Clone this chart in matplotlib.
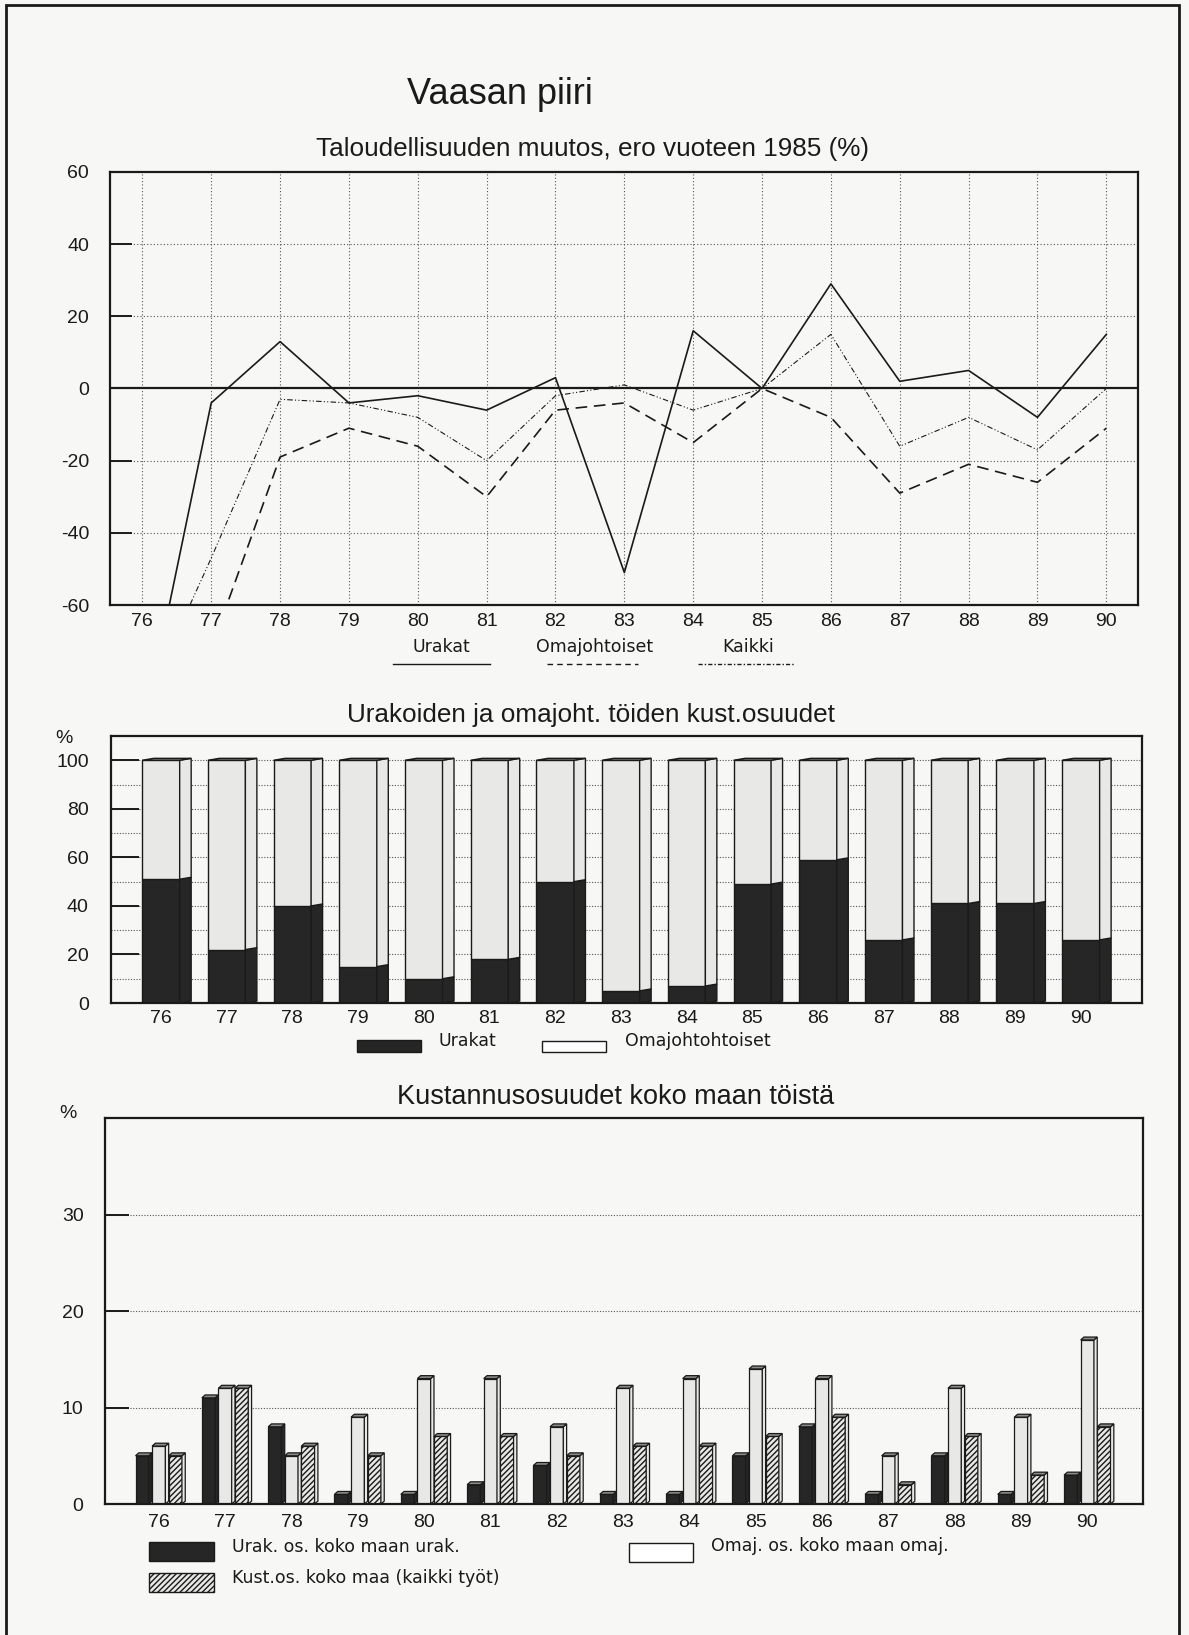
import matplotlib
matplotlib.use("Agg")
import matplotlib.pyplot as plt
from matplotlib.patches import Polygon, Rectangle
from matplotlib.lines import Line2D

plt.rcParams['font.family'] = ['Liberation Sans', 'DejaVu Sans']

# ---- data -------------------------------------------------------------
years = [76, 77, 78, 79, 80, 81, 82, 83, 84, 85, 86, 87, 88, 89, 90]
year_labels = [str(y) for y in years]

# Taloudellisuuden muutos, ero vuoteen 1985 (%)
urakat_change = [-96, -4, 13, -4, -2, -6, 3, -51, 16, 0, 29, 2, 5, -8, 15]
omaj_change = [-90, -72, -19, -11, -16, -30, -6, -4, -15, 0, -8, -29, -21, -26, -11]
kaikki_change = [-89, -47, -3, -4, -8, -20, -2, 1, -6, 0, 15, -16, -8, -17, 0]
change_ticks = [-60, -40, -20, 0, 20, 40, 60]

# Urakoiden ja omajohtoisten töiden kustannusosuudet (%)
urakat_share = [51, 22, 40, 15, 10, 18, 50, 5, 7, 49, 59, 26, 41, 41, 26]
omaj_share = [49, 78, 60, 85, 90, 82, 50, 95, 93, 51, 41, 74, 59, 59, 74]
share_ticks = [0, 20, 40, 60, 80, 100]

# Kustannusosuudet koko maan töistä (%)
urak_os = [5, 11, 8, 1, 1, 2, 4, 1, 1, 5, 8, 1, 5, 1, 3]
omaj_os = [6, 12, 5, 9, 13, 13, 8, 12, 13, 14, 13, 5, 12, 9, 17]
kust_os = [5, 12, 6, 5, 7, 7, 5, 6, 6, 7, 9, 2, 7, 3, 8]
os_ticks = [0, 10, 20, 30]

# ---- styling ----------------------------------------------------------
BG = '#f7f7f5'
INK = '#1a1a1a'
DARK = '#262626'
LIGHT = '#e8e8e6'
CAP = '#8a8a8a'
GRID = '#555555'
TICK_FS = 14
LEG_FONT = ['DejaVu Sans']
LEG_FS = 12.5

W, H = 1189, 1635
fig = plt.figure(figsize=(W / 100, H / 100), dpi=100, facecolor=BG)


def fx(px):
    return px / W


def fy(py):
    return 1 - py / H


def add_axes(x0, y0, x1, y1):
    ax = fig.add_axes([fx(x0), fy(y1), fx(x1 - x0), (y1 - y0) / H])
    ax.set_facecolor(BG)
    for s in ax.spines.values():
        s.set_linewidth(1.6)
        s.set_color(INK)
    return ax


# page frame
fig.add_artist(Rectangle((fx(6), fy(1640)), fx(1173), (1640 - 5) / H,
                         transform=fig.transFigure, fill=False,
                         edgecolor=INK, linewidth=2))

fig.text(fx(500), fy(95), 'Vaasan piiri', ha='center', va='center',
         fontsize=26, color=INK)

# ---- 1: Taloudellisuuden muutos ----------------------------------------
ax1 = add_axes(110, 172, 1138, 605)
ax1.set_xlim(75.53, 90.46)
ax1.set_ylim(-60, 60)
for y in years:
    ax1.axvline(y, color=GRID, lw=0.8, ls=(0, (1, 2)), zorder=0.5)
for v in change_ticks[1:-1]:
    if v != 0:
        ax1.axhline(v, color=GRID, lw=0.8, ls=(0, (1, 2)), zorder=0.5)
ax1.axhline(0, color=INK, lw=1.6, zorder=1)
ax1.plot(years, urakat_change, color=INK, lw=1.2, zorder=3)
ax1.plot(years, omaj_change, color=INK, lw=1.2, ls=(0, (7, 4)), zorder=3)
ax1.plot(years, kaikki_change, color=INK, lw=0.8, ls=(0, (5, 2, 1, 2, 1, 2)), zorder=3)
ax1.set_xticks(years, year_labels)
ax1.set_yticks(change_ticks, [str(v) for v in change_ticks])
ax1.tick_params(axis='x', length=0, pad=6, labelsize=TICK_FS, colors=INK)
ax1.tick_params(axis='y', direction='in', length=16, width=1.4, pad=15,
                labelsize=TICK_FS, colors=INK)
fig.text(fx(593), fy(149), 'Taloudellisuuden muutos, ero vuoteen 1985 (%)',
         ha='center', va='center', fontsize=18.8, color=INK)

# line legend under the axes
legend_items = [('Urakat', 441, 393, 490, '-'),
                ('Omajohtoiset', 595, 547, 638, (0, (4, 3))),
                ('Kaikki', 748, 698, 795, (0, (3, 1.5, 1, 1.5)))]
for label, cx, lx0, lx1, ls in legend_items:
    fig.text(fx(cx), fy(647), label, ha='center', va='center',
             fontsize=LEG_FS, color=INK, family=LEG_FONT)
    fig.add_artist(Line2D([fx(lx0), fx(lx1)], [fy(664), fy(664)],
                          transform=fig.transFigure, color=INK, lw=1, ls=ls))

# ---- 2: Urakoiden ja omajoht. töiden kust.osuudet -----------------------
ax2 = add_axes(111, 736, 1142, 1003)
ax2.set_xlim(75.24, 90.93)
ax2.set_ylim(0, 110)
for v in range(10, 101, 10):
    ax2.axhline(v, color=GRID, lw=0.8, ls=(0, (1, 1.5)), zorder=0.5)

bw, ddx, ddy = 0.57, 0.175, 0.8
ax2.bar(years, urakat_share, width=bw, color=DARK, edgecolor=INK, lw=1, zorder=2)
ax2.bar(years, omaj_share, width=bw, bottom=urakat_share, color=LIGHT,
        edgecolor=INK, lw=1, zorder=2)
for x, u, o in zip(years, urakat_share, omaj_share):
    r = x + bw / 2
    top = u + o
    ax2.add_patch(Polygon([(r, 0), (r + ddx, ddy), (r + ddx, u + ddy), (r, u)],
                          closed=True, facecolor=DARK, edgecolor=INK, lw=1, zorder=2))
    ax2.add_patch(Polygon([(r, u), (r + ddx, u + ddy), (r + ddx, top + ddy), (r, top)],
                          closed=True, facecolor=LIGHT, edgecolor=INK, lw=1, zorder=2))
    ax2.add_patch(Polygon([(x - bw / 2, top), (x - bw / 2 + ddx, top + ddy),
                           (r + ddx, top + ddy), (r, top)],
                          closed=True, facecolor=CAP, edgecolor=INK, lw=1, zorder=2))
ax2.set_xticks(years, year_labels)
ax2.set_yticks(share_ticks, [str(v) for v in share_ticks])
ax2.tick_params(axis='x', length=0, pad=5, labelsize=TICK_FS, colors=INK)
ax2.tick_params(axis='y', direction='in', length=20, width=1.4, pad=16,
                labelsize=TICK_FS, colors=INK)
fig.text(fx(591), fy(715), 'Urakoiden ja omajoht. töiden kust.osuudet',
         ha='center', va='center', fontsize=18.8, color=INK)
fig.text(fx(64), fy(738), '%', ha='center', va='center', fontsize=TICK_FS, color=INK)

fig.add_artist(Rectangle((fx(357), fy(1052)), fx(64), 12 / H, transform=fig.transFigure,
                         facecolor=DARK, edgecolor=INK, lw=1))
fig.text(fx(438), fy(1041), 'Urakat', ha='left', va='center', fontsize=LEG_FS,
         color=INK, family=LEG_FONT)
fig.add_artist(Rectangle((fx(542), fy(1052)), fx(64), 11 / H, transform=fig.transFigure,
                         facecolor='white', edgecolor=INK, lw=1))
fig.text(fx(625), fy(1041), 'Omajohtohtoiset', ha='left', va='center', fontsize=LEG_FS,
         color=INK, family=LEG_FONT)

# ---- 3: Kustannusosuudet koko maan töistä ------------------------------
ax3 = add_axes(105, 1118, 1143, 1504)
ax3.set_xlim(75.19, 90.84)
ax3.set_ylim(0, 40)
for v in os_ticks[1:]:
    ax3.axhline(v, color=GRID, lw=0.8, ls=(0, (1, 1.5)), zorder=0.5)

w3, d3x, d3y = 0.2, 0.05, 0.3
offsets = [-0.25, 0.0, 0.25]
series = [(urak_os, DARK, None), (omaj_os, LIGHT, None), (kust_os, LIGHT, '//////')]
for (vals, col, hatch), off in zip(series, offsets):
    xs = [y + off for y in years]
    ax3.bar(xs, vals, width=w3, color=col, edgecolor=INK, lw=0.9, hatch=hatch, zorder=2)
    for x, v in zip(xs, vals):
        r = x + w3 / 2
        ax3.add_patch(Polygon([(r, 0), (r + d3x, d3y), (r + d3x, v + d3y), (r, v)],
                              closed=True, facecolor=col, edgecolor=INK, lw=0.9,
                              zorder=2))
        ax3.add_patch(Polygon([(x - w3 / 2, v), (x - w3 / 2 + d3x, v + d3y),
                               (r + d3x, v + d3y), (r, v)],
                              closed=True, facecolor=CAP, edgecolor=INK,
                              lw=0.9, zorder=2))
ax3.set_xticks(years, year_labels)
ax3.set_yticks(os_ticks, [str(v) for v in os_ticks])
ax3.tick_params(axis='x', length=0, pad=7, labelsize=TICK_FS, colors=INK)
ax3.tick_params(axis='y', direction='in', length=17, width=1.4, pad=15.5,
                labelsize=TICK_FS, colors=INK)
fig.text(fx(616), fy(1097), 'Kustannusosuudet koko maan töistä',
         ha='center', va='center', fontsize=19.5, color=INK)
fig.text(fx(68), fy(1114), '%', ha='center', va='center', fontsize=TICK_FS, color=INK)

fig.add_artist(Rectangle((fx(149), fy(1561)), fx(65), 19 / H, transform=fig.transFigure,
                         facecolor=DARK, edgecolor=INK, lw=1))
fig.text(fx(232), fy(1547), 'Urak. os. koko maan urak.', ha='left', va='center',
         fontsize=LEG_FS, color=INK, family=LEG_FONT)
fig.add_artist(Rectangle((fx(149), fy(1592)), fx(65), 19 / H, transform=fig.transFigure,
                         facecolor=LIGHT, edgecolor=INK, lw=1, hatch='//////'))
fig.text(fx(232), fy(1578), 'Kust.os. koko maa (kaikki työt)', ha='left', va='center',
         fontsize=LEG_FS, color=INK, family=LEG_FONT)
fig.add_artist(Rectangle((fx(629), fy(1562)), fx(64), 19 / H, transform=fig.transFigure,
                         facecolor='white', edgecolor=INK, lw=1))
fig.text(fx(711), fy(1546), 'Omaj. os. koko maan omaj.', ha='left', va='center',
         fontsize=LEG_FS, color=INK, family=LEG_FONT)

fig.savefig('out.png', dpi=100, facecolor=BG)
